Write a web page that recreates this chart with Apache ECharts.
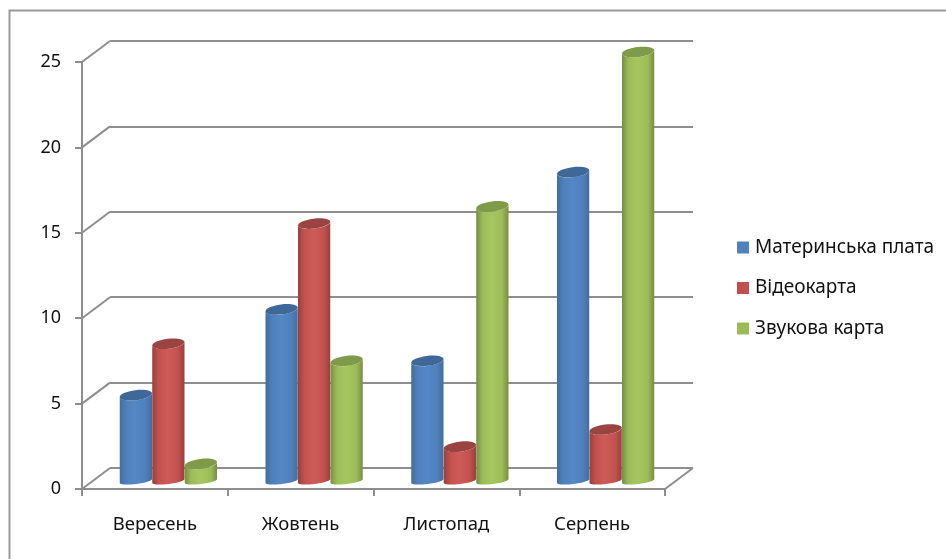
<!DOCTYPE html>
<html>
<head>
<meta charset="utf-8">
<style>html,body{margin:0;padding:0;background:#fff}#chart{width:946px;height:559px}</style>
<script src="https://cdn.jsdelivr.net/npm/echarts@6/dist/echarts.min.js"></script>
</head>
<body>
<div id="chart"></div>
<script>
// Monthly counts per component
const categories = ['Вересень', 'Жовтень', 'Листопад', 'Серпень'];
const motherboard = [5, 10, 7, 18];
const videoCard = [8, 15, 2, 3];
const soundCard = [1, 7, 16, 25];
const valueTicks = [0, 5, 10, 15, 20, 25];

const FONT = '"Noto Sans", sans-serif';
const LINE = '#8e8e8e';
const DEPTH_X = 28, DEPTH_Y = -21;     // front plane to back wall offset
const BAR_SHARE = 0.223;               // cylinder width as a share of a category
const TILT = 7 * Math.PI / 180;        // slant of the cylinder end caps

const palettes = [
  { edge: '#436d9f', mid: '#4f80bb', hi: '#5488c6', cap: '#3f6797' },
  { edge: '#96403d', mid: '#c2524f', hi: '#cf5b58', cap: '#9a4441' },
  { edge: '#768e42', mid: '#9cbc59', hi: '#a6c75f', cap: '#7f9a49' }
];

// Point on a tilted ellipse
function capPoint(cx, cy, rx, ry, t) {
  const x = rx * Math.cos(t), y = ry * Math.sin(t);
  return [cx + x * Math.cos(TILT) + y * Math.sin(TILT),
          cy - x * Math.sin(TILT) + y * Math.cos(TILT)];
}

function cylinder(seriesPos, colors) {
  return function (params, api) {
    const width = api.size([1, 0])[0] * BAR_SHARE;
    const rx = width / 2, ry = 5, baseRy = 3;
    const base = api.coord([api.value(0), 0]);
    const top = api.coord([api.value(0), api.value(1)]);
    const cx = base[0] + (seriesPos - 1) * width;
    const points = [];
    for (let i = 0; i <= 32; i++) {
      points.push(capPoint(cx, top[1], rx, ry, Math.PI - Math.PI * i / 32));
    }
    for (let i = 0; i <= 32; i++) {
      points.push(capPoint(cx, base[1], rx, baseRy, Math.PI * i / 32));
    }
    const body = new echarts.graphic.LinearGradient(0, 0, 1, 0, [
      { offset: 0, color: colors.edge },
      { offset: 0.2, color: colors.mid },
      { offset: 0.48, color: colors.hi },
      { offset: 0.8, color: colors.mid },
      { offset: 1, color: colors.edge }
    ]);
    return {
      type: 'group',
      children: [
        { type: 'polygon', shape: { points: points }, style: { fill: body } },
        {
          type: 'ellipse',
          shape: { cx: cx, cy: top[1], rx: rx, ry: ry },
          originX: cx, originY: top[1], rotation: TILT,
          style: { fill: colors.cap }
        }
      ]
    };
  };
}

function cylinderSeries(name, values, pos) {
  return {
    type: 'custom',
    name: name,
    xAxisIndex: 2,
    yAxisIndex: 2,
    z: 5 + pos,
    itemStyle: { color: ['#4f81bd', '#c0504d', '#9bbb59'][pos] },
    encode: { x: 0, y: 1 },
    data: values.map((v, i) => [i, v]),
    renderItem: cylinder(pos, palettes[pos])
  };
}

const chart = echarts.init(document.getElementById('chart'), null, { renderer: 'canvas' });
const sharedX = { type: 'category', data: categories };
const sharedY = { type: 'value', min: 0, max: 25, interval: 5 };

chart.setOption({
  animation: false,
  backgroundColor: '#fff',
  grid: [
    { left: 82, top: 62, width: 583, height: 427 },    // front plane: axes
    { left: 110, top: 41, width: 583, height: 427 },   // back wall: gridlines
    { left: 95.5, top: 52, width: 583, height: 429 }   // middle plane: cylinders
  ],
  xAxis: [
    Object.assign({}, sharedX, {
      gridIndex: 0,
      axisLine: { show: true, lineStyle: { color: LINE, width: 2 } },
      axisTick: { show: true, alignWithLabel: false, length: 7, lineStyle: { color: LINE, width: 2 } },
      axisLabel: { color: '#111', fontFamily: FONT, fontSize: 18.5, margin: 26 }
    }),
    Object.assign({}, sharedX, { gridIndex: 1, show: false }),
    Object.assign({}, sharedX, { gridIndex: 2, show: false })
  ],
  yAxis: [
    Object.assign({}, sharedY, {
      gridIndex: 0,
      splitLine: { show: false },
      axisLine: { show: true, lineStyle: { color: LINE, width: 2 } },
      axisTick: { show: true, length: 7, lineStyle: { color: LINE, width: 2 } },
      axisLabel: { color: '#111', fontFamily: FONT, fontSize: 18, margin: 21 }
    }),
    Object.assign({}, sharedY, {
      gridIndex: 1,
      axisLine: { show: false },
      axisTick: { show: false },
      axisLabel: { show: false },
      splitLine: { show: true, lineStyle: { color: LINE, width: 2 } }
    }),
    Object.assign({}, sharedY, { gridIndex: 2, show: false, splitLine: { show: false } })
  ],
  legend: {
    orient: 'vertical',
    left: 732,
    top: 233,
    itemWidth: 12,
    itemHeight: 12,
    itemGap: 21.5,
    icon: 'rect',
    selectedMode: false,
    data: ['Материнська плата', 'Відеокарта', 'Звукова карта'],
    textStyle: { color: '#111', fontFamily: FONT, fontSize: 19, padding: [0, 0, 0, 1] }
  },
  graphic: [{
    // outer chart frame
    type: 'polyline',
    silent: true,
    shape: { points: [[9.5, 559], [9.5, 10.5], [946, 10.5]] },
    style: { stroke: '#9a9a9a', lineWidth: 2, fill: null }
  }],
  series: [
    {
      // slanted lines joining the front axis to the back wall, plus the floor's right edge
      type: 'custom',
      xAxisIndex: 0,
      yAxisIndex: 0,
      z: 3,
      silent: true,
      encode: { y: 0 },
      data: valueTicks.map(v => [v]),
      renderItem: function (params, api) {
        const sys = params.coordSys;
        const y = api.coord([0, api.value(0)])[1];
        const style = { stroke: LINE, lineWidth: 2 };
        const children = [{
          type: 'line',
          shape: { x1: sys.x, y1: y, x2: sys.x + DEPTH_X, y2: y + DEPTH_Y },
          style: style
        }];
        if (api.value(0) === 0) {
          children.push({
            type: 'line',
            shape: { x1: sys.x + sys.width, y1: y, x2: sys.x + sys.width + DEPTH_X, y2: y + DEPTH_Y },
            style: style
          });
        }
        return { type: 'group', children: children };
      }
    },
    cylinderSeries('Материнська плата', motherboard, 0),
    cylinderSeries('Відеокарта', videoCard, 1),
    cylinderSeries('Звукова карта', soundCard, 2)
  ]
});
</script>
</body>
</html>
